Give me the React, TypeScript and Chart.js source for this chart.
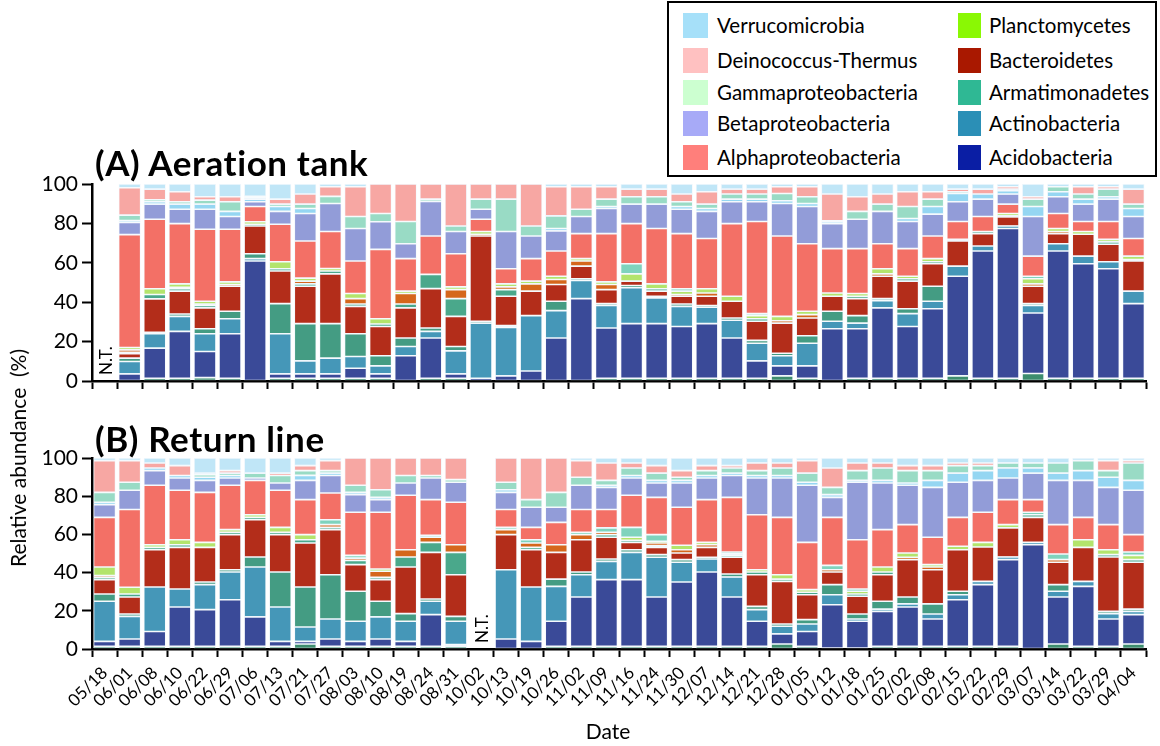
import { useEffect, useRef } from 'react';
import { Chart, registerables } from 'chart.js';

Chart.register(...registerables);

// Sampling dates (one bar per date)
const dates = [
  '05/18', '06/01', '06/08', '06/10', '06/22', '06/29', '07/06', '07/13', '07/21', '07/27',
  '08/03', '08/10', '08/19', '08/24', '08/31', '10/02', '10/13', '10/19', '10/26', '11/02',
  '11/09', '11/16', '11/24', '11/30', '12/07', '12/14', '12/21', '12/28', '01/05', '01/12',
  '01/18', '01/25', '02/02', '02/08', '02/15', '02/22', '02/29', '03/07', '03/14', '03/22',
  '03/29', '04/04',
];

const yTicks = [0, 20, 40, 60, 80, 100];

// Dates without a sample in each line
const aerationNotTested = ['05/18'];
const returnNotTested = ['10/02'];

// ---- (A) Aeration tank, relative abundance (%) per group ----
const aerBase = [0, 0, 1.4, 1.4, 1.7, 1.4, 0, 1.4, 1.4, 1.4, 1.4, 1.4, 0, 1.4, 1.4, 0, 0, 0, 0, 0, 1.4, 1.4, 1.4, 1.4, 1.4, 1.4, 1.4, 2.6, 1.4, 0, 1.4, 1.4, 1.4, 1.4, 2.6, 1.4, 1.4, 3.8, 1.4, 1.4, 1.4, 1.4];
const aerAcido = [0, 3.6, 15.3, 23.8, 13.3, 22.6, 60.9, 2.2, 2.2, 2.2, 5.1, 2.2, 12.8, 20.4, 2.2, 1.4, 2.6, 5.1, 21.8, 41.8, 25.5, 27.7, 27.7, 26.3, 27.7, 20.4, 8.8, 5.1, 6.3, 26.5, 25.1, 35.7, 26.3, 35.3, 50.6, 64.6, 76.0, 30.7, 64.6, 58.1, 55.6, 37.9];
const aerActino = [0, 6.3, 7.3, 7.6, 9.0, 7.6, 1.2, 20.4, 6.6, 8.0, 5.9, 4.1, 4.7, 3.4, 11.7, 28.0, 24.6, 28.1, 13.9, 9.2, 11.4, 18.2, 13.1, 10.2, 8.3, 9.0, 9.0, 5.1, 11.5, 3.8, 2.9, 3.7, 6.5, 3.8, 5.1, 2.5, 1.3, 3.8, 3.7, 3.9, 3.5, 6.3];
const aerArmat = [0, 1.7, 0.7, 1.2, 2.5, 3.8, 2.5, 15.3, 18.9, 17.5, 11.6, 5.1, 4.3, 1.7, 2.2, 0.9, 0.9, 0, 4.8, 0.9, 1.0, 1.2, 0.8, 1.2, 0.9, 1.2, 1.4, 1.3, 3.8, 5.1, 3.8, 1.0, 2.5, 7.6, 0, 0, 0, 1.0, 0, 0, 0, 0];
const aerBact = [0, 2.2, 17.0, 11.6, 10.6, 12.7, 14.1, 16.5, 19.0, 25.3, 13.9, 14.9, 15.3, 20.0, 15.3, 43.3, 14.9, 12.4, 8.5, 6.4, 7.1, 2.2, 2.6, 3.9, 4.7, 8.5, 9.7, 15.3, 9.0, 7.6, 8.6, 11.4, 14.0, 11.4, 12.8, 6.3, 4.6, 8.8, 5.1, 11.1, 8.9, 15.3];
const aerUpperGreen = [0, 0.8, 2.2, 1.3, 1.2, 0, 0.9, 1.2, 1.2, 1.4, 1.2, 1.2, 2.0, 7.2, 9.0, 0, 3.4, 0, 0, 0, 0, 0, 1.2, 0, 0, 0, 1.3, 0, 0, 0, 1.2, 0, 1.2, 1.0, 0, 1.1, 0, 0, 0, 0, 1.2, 0];
const aerOrange = [0, 1.2, 0, 0.7, 0.8, 0.9, 0, 0, 1.4, 0, 2.7, 0, 5.3, 0, 4.6, 0.9, 1.4, 3.7, 2.5, 2.6, 2.6, 0, 0, 0.9, 1.7, 0, 0, 1.2, 1.7, 0, 0, 1.2, 0, 0, 0, 0, 0.5, 1.2, 1.1, 0, 0, 0.8];
const aerPlancto = [0, 1.2, 2.9, 1.7, 1.4, 1.3, 1.2, 3.5, 1.5, 1.3, 2.6, 2.7, 1.2, 0, 1.4, 1.4, 1.5, 1.4, 1.7, 1.2, 1.3, 3.7, 2.5, 1.7, 2.1, 2.5, 1.6, 2.2, 1.7, 1.7, 1.4, 2.6, 1.3, 1.6, 0.8, 0, 1.2, 2.6, 1.5, 1.4, 1.3, 1.7];
const aerMint = [0, 0, 0, 0, 0, 0, 0, 0, 0, 0, 0, 0, 0, 0, 0, 0, 0, 0, 0, 0, 0, 5.1, 0, 1.2, 0, 0, 1.0, 0, 0, 0, 0, 0, 0, 0, 0, 0, 0, 1.3, 0, 0, 0, 0];
const aerAlpha = [0, 57.3, 35.3, 30.6, 36.5, 26.7, 7.8, 19.1, 18.9, 18.8, 16.5, 35.2, 16.5, 19.5, 16.8, 6.2, 7.7, 11.4, 12.8, 12.7, 24.5, 20.4, 28.1, 28.0, 25.5, 36.9, 46.8, 40.8, 34.3, 22.5, 22.8, 12.7, 14.0, 11.5, 9.1, 7.6, 4.8, 10.2, 7.6, 5.1, 9.1, 8.9];
const aerBeta = [0, 6.2, 7.7, 7.3, 10.2, 6.5, 2.4, 6.5, 13.9, 14.2, 16.5, 14.0, 7.6, 17.6, 11.3, 5.1, 18.9, 11.5, 10.2, 8.7, 12.8, 9.9, 12.4, 12.4, 13.8, 11.1, 10.0, 16.5, 18.9, 12.7, 14.9, 16.4, 13.8, 11.1, 10.0, 8.8, 5.1, 20.1, 8.5, 8.8, 11.3, 11.2];
const aerLightBlue = [0, 1.0, 1.2, 2.6, 2.6, 2.6, 1.3, 2.5, 2.6, 0, 0, 0, 0, 0, 0, 0, 0, 0, 1.2, 0, 1.0, 0, 0, 1.4, 1.5, 1.3, 1.3, 1.4, 1.5, 0.9, 0, 0, 1.5, 3.9, 4.2, 2.6, 1.7, 5.1, 2.6, 2.5, 1.2, 4.1];
const aerGamma = [0, 2.7, 1.0, 1.2, 2.0, 4.9, 0.9, 1.2, 2.2, 3.6, 6.1, 4.2, 11.3, 1.1, 2.8, 5.1, 16.4, 5.1, 6.4, 3.7, 3.7, 3.7, 3.7, 2.4, 2.2, 2.6, 2.6, 3.7, 3.4, 0.5, 4.0, 3.7, 6.1, 3.7, 0.9, 0, 0.8, 3.7, 2.5, 2.6, 3.9, 2.2];
const aerDeino = [0, 13.9, 5.4, 5.1, 1.7, 2.5, 0.5, 2.5, 5.1, 4.9, 15.1, 15.0, 19.0, 7.7, 21.3, 7.7, 7.7, 21.3, 14.8, 11.4, 6.3, 3.9, 3.9, 3.9, 6.3, 2.5, 2.5, 3.4, 5.1, 13.6, 7.4, 5.1, 7.5, 3.8, 1.3, 2.5, 1.2, 1.2, 0, 3.7, 1.2, 7.6];
const aerVerruco = [0, 1.9, 2.6, 3.9, 6.5, 6.5, 6.3, 7.7, 5.1, 1.4, 1.4, 0, 0, 0, 0, 0, 0, 0, 1.4, 1.4, 1.4, 2.6, 2.6, 5.1, 3.9, 2.6, 2.6, 1.4, 1.4, 5.1, 6.5, 5.1, 3.9, 3.9, 2.6, 2.6, 1.4, 6.5, 1.4, 1.4, 1.4, 2.6];

// ---- (B) Return line, relative abundance (%) per group ----
const retBase = [1.4, 1.4, 1.4, 1.4, 1.4, 1.4, 1.4, 1.4, 2.6, 1.4, 1.4, 1.4, 1.4, 1.4, 1.4, 0, 0, 0, 1.4, 1.4, 1.4, 1.4, 1.4, 1.4, 1.4, 1.4, 1.4, 2.6, 1.4, 0.5, 0.5, 1.4, 1.4, 1.4, 1.4, 1.4, 1.4, 0, 2.6, 1.4, 1.4, 2.6];
const retAcido = [2.6, 3.8, 7.8, 20.6, 19.2, 24.4, 15.4, 2.6, 1.4, 3.8, 2.6, 3.8, 2.6, 16.6, 0.9, 0, 5.2, 4.0, 13.1, 25.8, 34.9, 34.9, 25.8, 33.7, 38.9, 25.8, 13.1, 5.3, 7.8, 22.7, 14.0, 18.3, 20.6, 14.3, 24.4, 32.3, 45.4, 54.6, 24.6, 31.4, 14.3, 15.4];
const retActino = [21.0, 11.9, 23.3, 9.4, 13.1, 14.5, 26.1, 18.0, 7.5, 10.5, 10.5, 11.6, 10.5, 7.0, 12.2, 0, 36.3, 28.5, 18.3, 11.7, 9.6, 14.3, 20.8, 10.3, 6.8, 10.5, 6.1, 4.0, 3.9, 5.2, 1.2, 1.2, 1.6, 2.6, 2.6, 1.7, 1.4, 1.2, 3.0, 2.6, 2.8, 1.7];
const retArmat = [3.8, 1.2, 0, 0, 1.4, 1.2, 5.3, 18.3, 21.0, 23.2, 15.7, 8.2, 4.0, 1.2, 2.6, 0, 0, 0, 3.8, 1.4, 1.2, 1.4, 1.4, 1.4, 0.9, 1.6, 1.7, 1.2, 2.3, 5.3, 2.6, 4.1, 3.6, 5.3, 1.8, 0, 0, 0, 3.5, 0, 1.2, 1.2];
const retBact = [7.5, 8.9, 19.5, 21.8, 18.1, 18.4, 19.5, 19.6, 23.0, 23.6, 14.0, 11.3, 24.4, 24.4, 21.8, 0, 18.4, 19.5, 14.0, 16.9, 11.4, 3.8, 3.8, 3.5, 5.2, 8.7, 16.6, 22.3, 13.0, 6.6, 9.3, 13.9, 19.6, 17.9, 21.8, 18.0, 15.2, 13.1, 11.7, 17.8, 28.5, 24.5];
const retUpperGreen = [1.2, 1.6, 1.2, 1.4, 0, 1.2, 1.2, 1.2, 1.7, 1.2, 2.2, 1.2, 5.3, 5.2, 11.7, 0, 0, 1.2, 0, 0, 1.4, 1.1, 0.9, 0, 0, 1.0, 1.4, 1.2, 1.3, 0, 1.2, 1.4, 0, 0, 0, 0, 0, 1.4, 0, 0, 1.2, 1.4];
const retOrange = [1.0, 0, 0, 0, 0, 0, 0, 0, 0, 1.4, 1.2, 3.2, 3.8, 2.7, 4.0, 0, 2.6, 2.3, 4.0, 2.7, 1.2, 0, 1.4, 1.7, 1.4, 0, 0, 0, 0, 1.2, 0, 0, 1.2, 1.4, 0, 0, 0, 0, 1.4, 0, 0, 0];
const retPlancto = [4.4, 3.5, 1.4, 2.6, 2.6, 1.4, 1.4, 2.6, 2.7, 0, 0, 1.2, 0, 0, 0, 0, 0, 0, 0, 0, 0, 1.6, 0.9, 2.3, 1.2, 0.9, 1.2, 2.3, 1.4, 0, 1.4, 2.6, 2.3, 1.3, 1.8, 2.4, 1.7, 0, 0, 4.0, 2.6, 2.2];
const retMint = [0, 0, 0, 0, 0, 0, 0, 0, 0, 2.6, 1.4, 0, 0, 1.0, 0, 0, 1.2, 1.7, 0, 1.2, 2.3, 5.2, 3.5, 0, 0, 0.9, 0, 0, 0, 2.3, 1.2, 0, 0, 0, 0, 0, 0, 1.3, 2.9, 0, 0, 1.8];
const retAlpha = [26.0, 40.7, 31.1, 25.9, 26.2, 23.2, 18.0, 19.4, 18.3, 14.0, 22.6, 29.7, 28.5, 18.7, 22.2, 0, 9.3, 6.5, 11.7, 11.9, 9.6, 16.8, 19.5, 19.9, 22.4, 28.6, 28.8, 30.0, 24.7, 25.1, 25.8, 19.6, 14.8, 14.3, 15.1, 15.8, 13.1, 6.6, 15.4, 11.7, 13.1, 9.1];
const retBeta = [6.7, 10.1, 7.7, 6.4, 6.3, 3.8, 1.2, 3.8, 10.1, 9.1, 9.2, 6.6, 6.4, 11.3, 10.5, 0, 9.0, 10.5, 7.9, 12.7, 11.6, 9.0, 7.5, 12.7, 11.3, 11.4, 19.2, 20.6, 29.9, 10.5, 30.1, 24.4, 20.6, 26.1, 18.4, 16.7, 11.3, 13.9, 23.2, 19.4, 19.5, 23.2];
const retLightBlue = [1.2, 0, 1.4, 1.3, 1.6, 1.3, 0, 0, 2.6, 1.3, 1.2, 1.2, 0, 0, 0, 0, 1.4, 0, 0, 0, 1.1, 1.3, 1.4, 1.4, 1.3, 1.3, 1.3, 1.3, 1.6, 1.4, 1.0, 1.4, 1.2, 3.7, 4.8, 5.1, 5.3, 2.7, 3.8, 5.1, 5.3, 5.2];
const retGamma = [5.2, 4.2, 0, 0, 1.4, 1.3, 2.6, 3.9, 2.5, 1.3, 3.7, 4.0, 3.9, 1.3, 1.4, 0, 3.9, 4.0, 7.8, 4.2, 2.6, 4.0, 3.8, 1.6, 2.6, 2.7, 2.6, 4.0, 4.8, 3.8, 5.1, 6.5, 6.5, 5.1, 3.9, 2.6, 2.6, 2.6, 5.3, 5.2, 3.5, 9.1];
const retDeino = [16.6, 11.3, 2.6, 5.2, 0.8, 1.3, 0, 1.3, 2.6, 5.2, 14.3, 16.6, 9.2, 9.2, 11.3, 0, 12.7, 21.8, 18.0, 8.7, 9.1, 2.6, 3.9, 3.5, 2.6, 1.2, 4.0, 2.6, 6.5, 10.2, 4.0, 2.6, 2.6, 2.6, 1.4, 1.4, 0, 0, 0, 0, 5.2, 1.2];
const retVerruco = [1.4, 1.4, 2.6, 4.0, 7.9, 6.6, 7.9, 7.9, 4.0, 1.4, 0, 0, 0, 0, 0, 0, 0, 0, 0, 1.4, 2.6, 2.6, 4.0, 6.6, 4.0, 4.0, 2.6, 2.6, 1.4, 5.2, 2.6, 2.6, 4.0, 4.0, 2.6, 2.6, 2.6, 2.6, 2.6, 1.4, 1.4, 1.4];

// Stack order, bottom to top, with bar fill colours
const stackLayers = [
  { label: 'Minor (base)', color: '#3d8d6e', aer: aerBase, ret: retBase },
  { label: 'Acidobacteria', color: '#3a4a98', aer: aerAcido, ret: retAcido },
  { label: 'Actinobacteria', color: '#4597b8', aer: aerActino, ret: retActino },
  { label: 'Armatimonadetes', color: '#449c83', aer: aerArmat, ret: retArmat },
  { label: 'Bacteroidetes', color: '#b32d1a', aer: aerBact, ret: retBact },
  { label: 'Minor (green)', color: '#4aa88b', aer: aerUpperGreen, ret: retUpperGreen },
  { label: 'Minor (orange)', color: '#d5671c', aer: aerOrange, ret: retOrange },
  { label: 'Planctomycetes', color: '#b3e46c', aer: aerPlancto, ret: retPlancto },
  { label: 'Minor (mint)', color: '#7fd3bd', aer: aerMint, ret: retMint },
  { label: 'Alphaproteobacteria', color: '#f37066', aer: aerAlpha, ret: retAlpha },
  { label: 'Betaproteobacteria', color: '#929cd8', aer: aerBeta, ret: retBeta },
  { label: 'Minor (light blue)', color: '#95d6f2', aer: aerLightBlue, ret: retLightBlue },
  { label: 'Gammaproteobacteria', color: '#99dbc5', aer: aerGamma, ret: retGamma },
  { label: 'Deinococcus-Thermus', color: '#f7a7a3', aer: aerDeino, ret: retDeino },
  { label: 'Verrucomicrobia', color: '#c0e6f7', aer: aerVerruco, ret: retVerruco },
];

// Legend entries (two columns, top to bottom)
const legendLeft = [
  { label: 'Verrucomicrobia', color: '#a6e0f9' },
  { label: 'Deinococcus-Thermus', color: '#ffc1c1' },
  { label: 'Gammaproteobacteria', color: '#ccffd0' },
  { label: 'Betaproteobacteria', color: '#a7aaf7' },
  { label: 'Alphaproteobacteria', color: '#ff7f7b' },
];
const legendRight = [
  { label: 'Planctomycetes', color: '#8af804' },
  { label: 'Bacteroidetes', color: '#a91800' },
  { label: 'Armatimonadetes', color: '#2fb894' },
  { label: 'Actinobacteria', color: '#2b8fb6' },
  { label: 'Acidobacteria', color: '#0a1ea4' },
];
const legendRowTops = [11, 46, 78, 109, 143];

const FONT = 'Lato, "Open Sans", sans-serif';

function notTestedPlugin(marks: string[]) {
  return {
    id: 'notTested',
    afterDatasetsDraw(chart: any) {
      const { ctx, chartArea } = chart;
      const xScale = chart.scales.x;
      ctx.save();
      ctx.fillStyle = '#000';
      ctx.font = '17px Lato, sans-serif';
      ctx.textAlign = 'left';
      ctx.textBaseline = 'middle';
      marks.forEach((m) => {
        const i = dates.indexOf(m);
        if (i < 0) return;
        const px = xScale.getPixelForValue(i);
        ctx.save();
        ctx.translate(px + 2, chartArea.bottom - 6);
        ctx.rotate(-Math.PI / 2);
        ctx.fillText('N.T.', 0, 0);
        ctx.restore();
      });
      ctx.restore();
    },
  };
}

type PanelProps = {
  which: 'aer' | 'ret';
  top: number;
  height: number;
  axisHeight: number;
  showDates: boolean;
  notTested: string[];
};

function StackedPanel({ which, top, height, axisHeight, showDates, notTested }: PanelProps) {
  const ref = useRef<HTMLCanvasElement>(null);

  useEffect(() => {
    if (!ref.current) return;
    const chart = new Chart(ref.current, {
      type: 'bar',
      data: {
        labels: dates,
        datasets: stackLayers.map((layer) => ({
          label: layer.label,
          data: layer[which],
          backgroundColor: layer.color,
          borderColor: 'rgba(225,238,250,0.55)',
          borderWidth: 0.8,
          borderSkipped: false,
          barPercentage: 0.88,
          categoryPercentage: 1.0,
        })),
      },
      options: {
        responsive: false,
        animation: false,
        devicePixelRatio: 1,
        layout: { padding: { top: 20, right: 14, left: 0, bottom: 0 } },
        plugins: {
          legend: { display: false },
          tooltip: { enabled: false },
        },
        scales: {
          x: {
            stacked: true,
            grid: {
              display: true,
              drawOnChartArea: false,
              drawTicks: true,
              tickLength: 8,
              tickWidth: 2,
              tickColor: '#000',
              offset: true,
            },
            border: { display: true, color: '#000', width: 2.5 },
            ticks: {
              display: showDates,
              autoSkip: false,
              maxRotation: 45,
              minRotation: 45,
              color: '#000',
              padding: 6,
              font: { family: FONT, size: 17 },
            },
            afterFit: (scale: any) => {
              scale.height = axisHeight;
            },
          },
          y: {
            stacked: true,
            min: 0,
            max: 100,
            afterBuildTicks: (scale: any) => {
              scale.ticks = yTicks.map((v) => ({ value: v }));
            },
            grid: {
              display: true,
              drawOnChartArea: false,
              drawTicks: true,
              tickLength: 10,
              tickWidth: 2,
              tickColor: '#000',
            },
            border: { display: true, color: '#000', width: 2.5 },
            ticks: {
              color: '#000',
              padding: 4,
              font: { family: FONT, size: 21 },
            },
            afterFit: (scale: any) => {
              scale.width = 92;
            },
          },
        },
      },
      plugins: [notTestedPlugin(notTested)],
    } as any);

    if ((document as any).fonts?.load) {
      Promise.all([
        (document as any).fonts.load('17px Lato'),
        (document as any).fonts.load('21px Lato'),
      ]).then(() => chart.update()).catch(() => {});
    }
    return () => chart.destroy();
  }, [which, axisHeight, showDates, notTested]);

  return (
    <canvas
      ref={ref}
      width={1160}
      height={height}
      style={{ position: 'absolute', left: 0, top, width: 1160, height }}
    />
  );
}

function LegendBox() {
  const item = (e: { label: string; color: string }, i: number, sx: number, sw: number, tx: number) => (
    <div key={e.label}>
      <div
        style={{
          position: 'absolute',
          left: sx - 667,
          top: legendRowTops[i] - 1,
          width: sw,
          height: 25,
          background: e.color,
        }}
      />
      <div
        style={{
          position: 'absolute',
          left: tx - 667,
          top: legendRowTops[i] - 1,
          height: 25,
          lineHeight: '25px',
          fontSize: 20.5,
          color: '#000',
          whiteSpace: 'nowrap',
        }}
      >
        {e.label}
      </div>
    </div>
  );
  return (
    <div
      style={{
        position: 'absolute',
        left: 667,
        top: 1,
        width: 490,
        height: 176,
        boxSizing: 'border-box',
        border: '2px solid #000',
        background: '#fff',
      }}
    >
      {legendLeft.map((e, i) => item(e, i, 681, 25, 715))}
      {legendRight.map((e, i) => item(e, i, 956, 23, 987))}
    </div>
  );
}

const titleStyle = {
  position: 'absolute' as const,
  left: 95,
  fontSize: 35,
  fontWeight: 700,
  lineHeight: '35px',
  letterSpacing: 0.6,
  whiteSpace: 'nowrap' as const,
};

export default function App() {
  return (
    <div
      style={{
        position: 'fixed',
        left: 0,
        top: 0,
        width: 1160,
        height: 746,
        background: '#fff',
        overflow: 'hidden',
        fontFamily: FONT,
        color: '#000',
      }}
    >
      <StackedPanel which="aer" top={164} height={236} axisHeight={19} showDates={false} notTested={aerationNotTested} />
      <StackedPanel which="ret" top={438} height={308} axisHeight={97} showDates={true} notTested={returnNotTested} />

      <div style={{ ...titleStyle, top: 145 }}>(A) Aeration tank</div>
      <div style={{ ...titleStyle, top: 421 }}>(B) Return line</div>

      <div
        style={{
          position: 'absolute',
          left: 18,
          top: 458,
          transform: 'translate(-50%, -50%) rotate(-90deg)',
          fontSize: 21,
          lineHeight: '24px',
          whiteSpace: 'pre',
        }}
      >
        {'Relative abundance  (%)'}
      </div>

      <div
        style={{
          position: 'absolute',
          left: 608,
          top: 731,
          transform: 'translate(-50%, -50%)',
          fontSize: 21,
          lineHeight: '24px',
          whiteSpace: 'nowrap',
        }}
      >
        Date
      </div>

      <LegendBox />
    </div>
  );
}
